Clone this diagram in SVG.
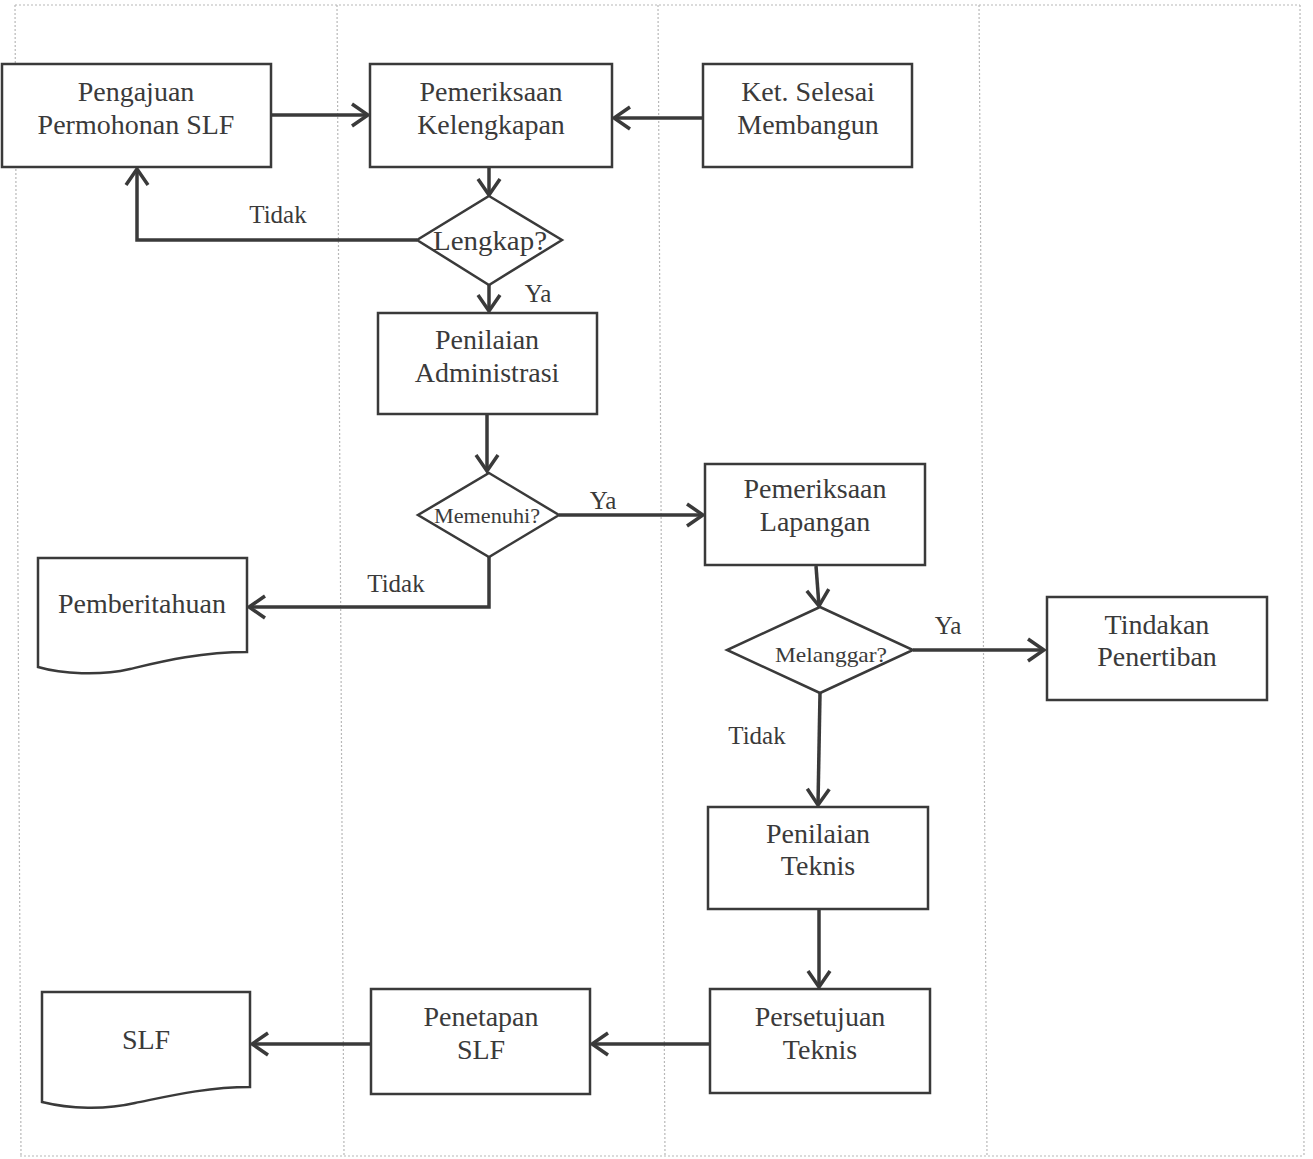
<svg xmlns="http://www.w3.org/2000/svg" width="1313" height="1159" viewBox="0 0 1313 1159">
<style>
.lane{stroke:#b8b8b8;stroke-width:1.2;stroke-dasharray:2 2;fill:none}
.box{fill:#fff;stroke:#3a3a3a;stroke-width:2.5}
.t{font-family:"Liberation Serif","Times New Roman",serif;font-size:28px;fill:#3a3a3a;text-anchor:middle}
.d{font-family:"Liberation Serif","Times New Roman",serif;fill:#3a3a3a;text-anchor:middle}
.lbl{font-family:"Liberation Serif","Times New Roman",serif;font-size:25px;fill:#3a3a3a;text-anchor:middle}
.c{fill:none;stroke:#3a3a3a;stroke-width:3.5;marker-end:url(#ah)}
</style>
<defs>
<marker id="ah" markerUnits="userSpaceOnUse" viewBox="0 0 22 28" refX="19" refY="14" markerWidth="22" markerHeight="28" orient="auto">
<path d="M3,3 L19,14 L3,25" fill="none" stroke="#3a3a3a" stroke-width="3.5" stroke-linejoin="miter"/>
</marker>
</defs>
<rect width="1313" height="1159" fill="#fff"/>
<g id="lanes">
<line class="lane" x1="15" y1="5" x2="1300" y2="5"/>
<line class="lane" x1="20" y1="1156" x2="1304" y2="1156"/>
<line class="lane" x1="15" y1="5" x2="21" y2="1156"/>
<line class="lane" x1="337" y1="5" x2="344" y2="1156"/>
<line class="lane" x1="658" y1="5" x2="665" y2="1156"/>
<line class="lane" x1="979" y1="5" x2="987" y2="1156"/>
<line class="lane" x1="1300" y1="5" x2="1304" y2="1156"/>
</g>
<g id="connectors">
<path class="c" d="M271,115 H368"/>
<path class="c" d="M703,118 H614"/>
<path class="c" d="M489,167 V195"/>
<path class="c" d="M417,240 H137 V169"/>
<path class="c" d="M489,285 V311"/>
<path class="c" d="M487,414 V471"/>
<path class="c" d="M559,515 H703"/>
<path class="c" d="M489,557 V607 H249"/>
<path class="c" d="M816,566 L819,606"/>
<path class="c" d="M913,650 H1044"/>
<path class="c" d="M820,693 L818,805"/>
<path class="c" d="M819,909 V987"/>
<path class="c" d="M710,1044 H592"/>
<path class="c" d="M371,1044 H252"/>
<text class="lbl" x="278" y="223">Tidak</text>
<text class="lbl" x="538" y="302">Ya</text>
<text class="lbl" x="603" y="509">Ya</text>
<text class="lbl" x="396" y="592">Tidak</text>
<text class="lbl" x="948" y="634">Ya</text>
<text class="lbl" x="757" y="744">Tidak</text>
</g>
<g id="n-pengajuan">
<rect class="box" x="2" y="64" width="269" height="103"/>
<text class="t" x="136" y="101">Pengajuan</text>
<text class="t" x="136" y="134">Permohonan SLF</text>
</g>
<g id="n-pemeriksaan-kelengkapan">
<rect class="box" x="370" y="64" width="242" height="103"/>
<text class="t" x="491" y="101">Pemeriksaan</text>
<text class="t" x="491" y="134">Kelengkapan</text>
</g>
<g id="n-ket-selesai">
<rect class="box" x="703" y="64" width="209" height="103"/>
<text class="t" x="808" y="101">Ket. Selesai</text>
<text class="t" x="808" y="134">Membangun</text>
</g>
<g id="n-lengkap">
<polygon class="box" points="489,196 562,240 489,285 417,240"/>
<text class="d" x="490" y="250" font-size="27" textLength="114" lengthAdjust="spacingAndGlyphs">Lengkap?</text>
</g>
<g id="n-penilaian-administrasi">
<rect class="box" x="378" y="313" width="219" height="101"/>
<text class="t" x="487" y="349">Penilaian</text>
<text class="t" x="487" y="382">Administrasi</text>
</g>
<g id="n-memenuhi">
<polygon class="box" points="489,473 559,515 489,557 418,515"/>
<text class="d" x="487" y="523" font-size="21" textLength="106" lengthAdjust="spacingAndGlyphs">Memenuhi?</text>
</g>
<g id="n-pemeriksaan-lapangan">
<rect class="box" x="705" y="464" width="220" height="101"/>
<text class="t" x="815" y="498">Pemeriksaan</text>
<text class="t" x="815" y="531">Lapangan</text>
</g>
<g id="n-pemberitahuan">
<path class="box" d="M38,558 H247 V652 C200,652 160,662 130,669 C100,676 62,674 38,667 Z"/>
<text class="t" x="142" y="613">Pemberitahuan</text>
</g>
<g id="n-melanggar">
<polygon class="box" points="820,607 913,650 820,693 727,650"/>
<text class="d" x="831" y="662" font-size="22" textLength="112" lengthAdjust="spacingAndGlyphs">Melanggar?</text>
</g>
<g id="n-tindakan">
<rect class="box" x="1047" y="597" width="220" height="103"/>
<text class="t" x="1157" y="634">Tindakan</text>
<text class="t" x="1157" y="666">Penertiban</text>
</g>
<g id="n-penilaian-teknis">
<rect class="box" x="708" y="807" width="220" height="102"/>
<text class="t" x="818" y="843">Penilaian</text>
<text class="t" x="818" y="875">Teknis</text>
</g>
<g id="n-persetujuan-teknis">
<rect class="box" x="710" y="989" width="220" height="104"/>
<text class="t" x="820" y="1026">Persetujuan</text>
<text class="t" x="820" y="1059">Teknis</text>
</g>
<g id="n-penetapan-slf">
<rect class="box" x="371" y="989" width="219" height="105"/>
<text class="t" x="481" y="1026">Penetapan</text>
<text class="t" x="481" y="1059">SLF</text>
</g>
<g id="n-slf">
<path class="box" d="M42,992 H250 V1087 C205,1087 165,1097 135,1103 C105,1110 70,1109 42,1102 Z"/>
<text class="t" x="146" y="1049">SLF</text>
</g>
</svg>
